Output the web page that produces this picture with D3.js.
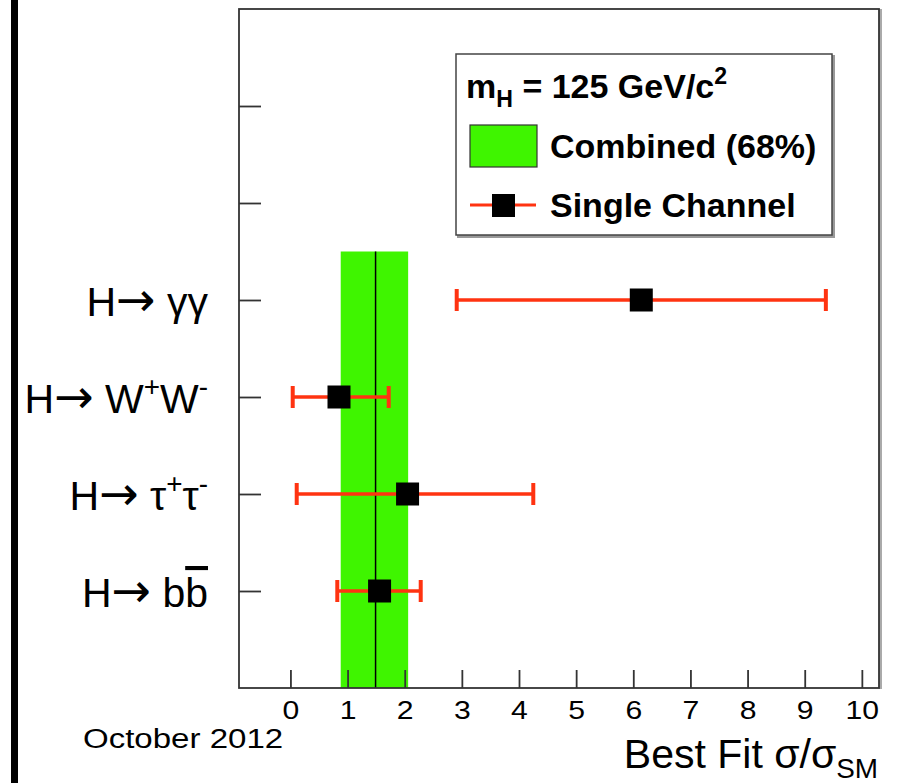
<!DOCTYPE html>
<html>
<head>
<meta charset="utf-8">
<script src="https://cdn.jsdelivr.net/npm/d3@7/dist/d3.min.js"></script>
<style>
  body { margin: 0; background: #fff; }
  text { font-family: "Liberation Sans", Arial, Helvetica, sans-serif; }
</style>
</head>
<body>
<div id="chart"></div>
<script>
// data
var channels = ["H→ γγ", "H→ W^{+}W^{-}", "H→ τ^{+}τ^{-}", "H→ b#bar{b}"];
var channelPos = [3, 4, 5, 6];
var bestFit = [6.14, 0.85, 2.05, 1.56];
var errLow = [2.91, 0.04, 0.11, 0.82];
var errHigh = [9.37, 1.72, 4.25, 2.28];
var combined = [0.88, 1.49, 2.06];   // low, central, high
var xTicks = [0, 1, 2, 3, 4, 5, 6, 7, 8, 9, 10];
var yTicks = [1, 2, 3, 4, 5, 6];

var svgWidth = 902, svgHeight = 783;
var margin = { top: 9, right: 23, bottom: 95, left: 239 };

var svg = d3.select("#chart").append("svg")
    .attr("width", svgWidth)
    .attr("height", svgHeight);

// black bar on the left edge
svg.append("rect")
    .attr("x", 11).attr("y", 0)
    .attr("width", 7).attr("height", svgHeight)
    .attr("fill", "#000");

var x = d3.scaleLinear()
    .domain([-0.9, 10.3])
    .range([margin.left, svgWidth - margin.right]);

var y = d3.scaleLinear()
    .domain([0, 7])
    .range([margin.top, svgHeight - margin.bottom]);

var red = "#ff3311";

// write ROOT-like label strings (^{} sup, _{} sub, #bar{}) as tspans
function richText(sel, str, fs) {
    var parts = str.split(/(\^\{[^}]*\}|_\{[^}]*\}|#bar\{[^}]*\}|→)/).filter(function (p) { return p !== ""; });
    var shift = 0;
    parts.forEach(function (p) {
        var t = sel.append("tspan");
        var want = 0;
        if (p.indexOf("^{") === 0) {
            want = -0.42 * fs;
            t.text(p.slice(2, -1)).attr("font-size", fs * 0.68);
        } else if (p.indexOf("_{") === 0) {
            want = 0.25 * fs;
            t.text(p.slice(2, -1)).attr("font-size", fs * 0.68);
        } else if (p.indexOf("#bar{") === 0) {
            t.text(p.slice(5, -1)).style("text-decoration", "overline");
        } else if (p === "→") {
            // longer arrow, like the original
            t.text(p).attr("font-family", "'DejaVu Sans', sans-serif")
                .attr("font-size", fs * 1.15);
        } else {
            t.text(p);
        }
        if (want !== shift) t.attr("dy", want - shift);
        shift = want;
    });
}

// combined band
svg.append("rect")
    .attr("x", x(combined[0]))
    .attr("y", y(2.5))
    .attr("width", x(combined[2]) - x(combined[0]))
    .attr("height", y(7) - y(2.5))
    .attr("fill", "#3ff500");

svg.append("line")
    .attr("x1", x(combined[1])).attr("x2", x(combined[1]))
    .attr("y1", y(2.5)).attr("y2", y(7))
    .attr("stroke", "#000").attr("stroke-width", 1.5);

// frame
svg.append("line")
    .attr("x1", x.range()[1] + 1.5).attr("x2", x.range()[1] + 1.5)
    .attr("y1", y.range()[0]).attr("y2", y.range()[1] + 1)
    .attr("stroke", "#aaa").attr("stroke-width", 3);
svg.append("rect")
    .attr("x", x.range()[0]).attr("y", y.range()[0])
    .attr("width", x.range()[1] - x.range()[0])
    .attr("height", y.range()[1] - y.range()[0])
    .attr("fill", "none").attr("stroke", "#333").attr("stroke-width", 1.8);

// axes
var bottomAxis = d3.axisBottom(x)
    .tickValues(xTicks)
    .tickSizeInner(-18)
    .tickSizeOuter(0)
    .tickPadding(13)
    .tickFormat(d3.format("d"));

var xg = svg.append("g")
    .attr("transform", "translate(0," + y.range()[1] + ")")
    .call(bottomAxis);
xg.select(".domain").remove();
xg.selectAll(".tick line").attr("stroke", "#333").attr("stroke-width", 1.8);
xg.selectAll(".tick text")
    .attr("font-size", 26)
    .attr("font-family", "'Liberation Sans', Arial, sans-serif")
    .attr("transform", "scale(1.16,1)")
    .attr("fill", "#000");

var leftAxis = d3.axisLeft(y)
    .tickValues(yTicks)
    .tickSizeInner(-22)
    .tickSizeOuter(0)
    .tickFormat("");

var yg = svg.append("g")
    .attr("transform", "translate(" + x.range()[0] + ",0)")
    .call(leftAxis);
yg.select(".domain").remove();
yg.selectAll(".tick line").attr("stroke", "#333").attr("stroke-width", 1.8);

// channel labels
channels.forEach(function (c, i) {
    var t = svg.append("text")
        .attr("x", 208)
        .attr("y", y(channelPos[i]) + 16)
        .attr("text-anchor", "end")
        .attr("font-size", 41)
        .attr("fill", "#000");
    richText(t, c, 41);
});

// single channel error bars and markers
var pts = svg.append("g");
channels.forEach(function (c, i) {
    var cy = y(channelPos[i]);
    pts.append("line")
        .attr("x1", x(errLow[i])).attr("x2", x(errHigh[i]))
        .attr("y1", cy).attr("y2", cy)
        .attr("stroke", red).attr("stroke-width", 3.5);
    [errLow[i], errHigh[i]].forEach(function (v) {
        pts.append("line")
            .attr("x1", x(v)).attr("x2", x(v))
            .attr("y1", cy - 11).attr("y2", cy + 11)
            .attr("stroke", red).attr("stroke-width", 4);
    });
    pts.append("rect")
        .attr("x", x(bestFit[i]) - 11.5).attr("y", cy - 11.5)
        .attr("width", 23).attr("height", 23)
        .attr("fill", "#000");
});

// legend
var lg = svg.append("g");
lg.append("path")
    .attr("d", "M833.5,55V236.5H457")
    .attr("fill", "none").attr("stroke", "#999").attr("stroke-width", 3);
lg.append("rect")
    .attr("x", 456).attr("y", 54).attr("width", 376).attr("height", 181)
    .attr("fill", "#fff").attr("stroke", "#444").attr("stroke-width", 1.5);

var t1 = lg.append("text")
    .attr("x", 466).attr("y", 98)
    .attr("font-size", 34).attr("font-weight", "bold");
richText(t1, "m_{H} = 125 GeV/c^{2}", 34);

lg.append("rect")
    .attr("x", 470).attr("y", 125).attr("width", 67).attr("height", 42)
    .attr("fill", "#3ff500").attr("stroke", "#333").attr("stroke-width", 1.2);
lg.append("text")
    .attr("x", 550).attr("y", 158)
    .attr("font-size", 34).attr("font-weight", "bold")
    .text("Combined (68%)");

lg.append("line")
    .attr("x1", 470).attr("x2", 536).attr("y1", 205).attr("y2", 205)
    .attr("stroke", red).attr("stroke-width", 3);
lg.append("rect")
    .attr("x", 492).attr("y", 194).attr("width", 23).attr("height", 23)
    .attr("fill", "#000");
lg.append("text")
    .attr("x", 550).attr("y", 217)
    .attr("font-size", 34).attr("font-weight", "bold")
    .text("Single Channel");

// bottom texts
svg.append("text")
    .attr("transform", "translate(83,748) scale(1.18,1)")
    .attr("font-size", 28)
    .text("October 2012");

var xt = svg.append("text")
    .attr("x", 878).attr("y", 768)
    .attr("text-anchor", "end")
    .attr("font-size", 41);
richText(xt, "Best Fit σ/σ_{SM}", 41);
</script>
</body>
</html>
